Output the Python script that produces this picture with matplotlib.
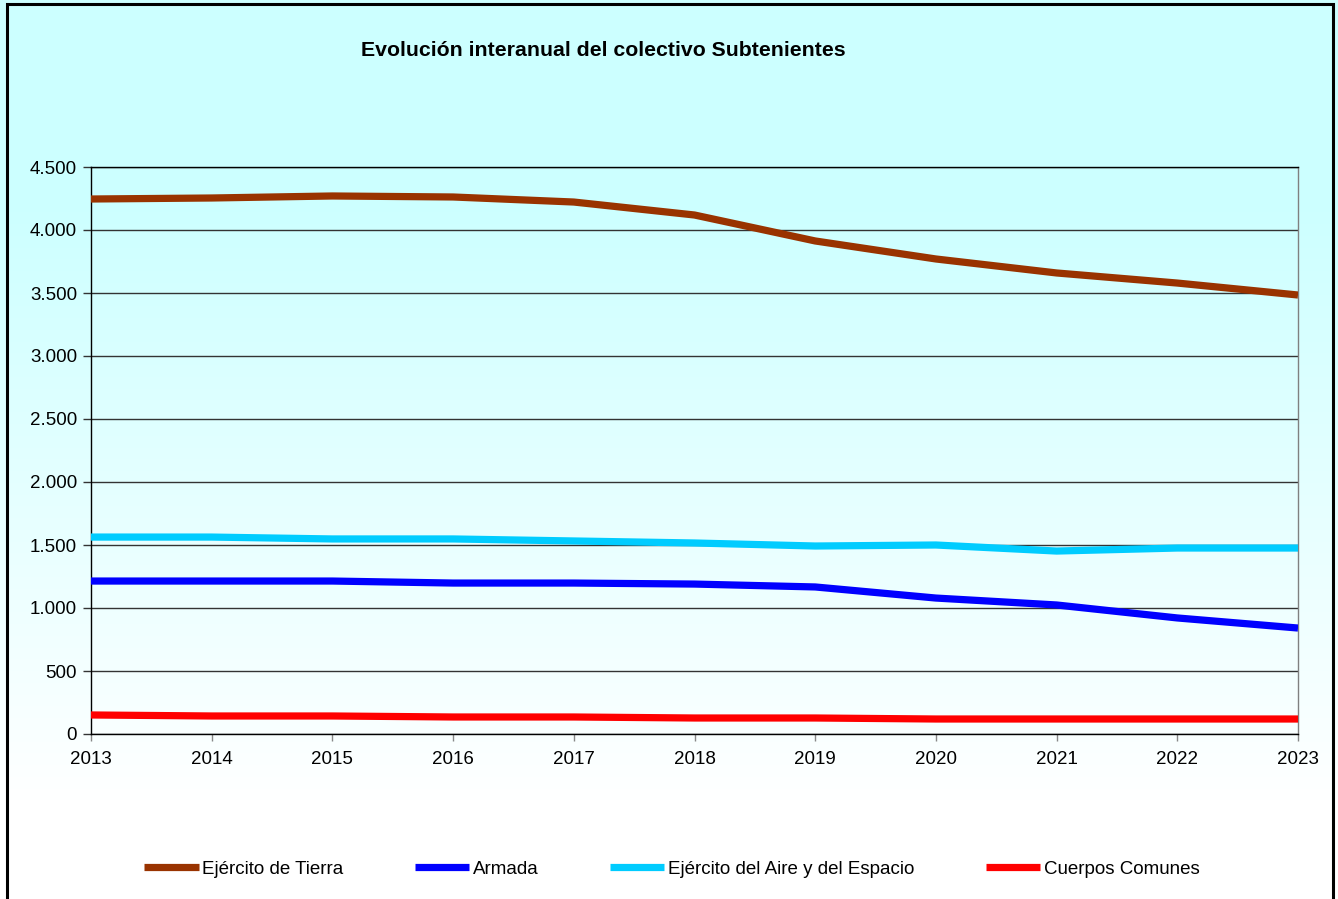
import numpy as np
import matplotlib
matplotlib.use('Agg')
import matplotlib.pyplot as plt
from matplotlib.patches import Rectangle

plt.rcParams['font.family'] = ['Liberation Sans', 'DejaVu Sans']

# Data
years = [2013, 2014, 2015, 2016, 2017, 2018, 2019, 2020, 2021, 2022, 2023]
tierra = [4246, 4254, 4270, 4262, 4222, 4119, 3913, 3770, 3659, 3579, 3484]
armada = [1214, 1214, 1214, 1198, 1198, 1190, 1167, 1079, 1024, 921, 841]
aire = [1563, 1563, 1548, 1548, 1532, 1516, 1492, 1500, 1452, 1476, 1476]
comunes = [151, 143, 143, 135, 135, 127, 127, 119, 119, 119, 119]

series_names = ['Ejército de Tierra', 'Armada', 'Ejército del Aire y del Espacio', 'Cuerpos Comunes']
series_colors = ['#993300', '#0000FF', '#00CCFF', '#FF0000']

W, H = 1338, 899
fig = plt.figure(figsize=(W / 100, H / 100), dpi=100)

# Background gradient (cyan at top fading to white at bottom)
bg = fig.add_axes([0, 0, 1, 1], zorder=-10)
rows = np.arange(H)
t = np.clip((rows - 200) / 600.0, 0, 1)
top = np.array([0.80, 1.0, 1.0])
bot = np.array([1.0, 1.0, 1.0])
grad = top[None, :] * (1 - t[:, None]) + bot[None, :] * t[:, None]
img = np.repeat(grad[:, None, :], 10, axis=1)
bg.imshow(img, aspect='auto', extent=[0, 1, 0, 1], origin='upper')
bg.set_axis_off()

# outer frame
fig.patches.append(Rectangle((7 / W, -0.01), (1333 - 7) / W, 1.01 - 4 / H,
                             transform=fig.transFigure, fill=False,
                             edgecolor='black', linewidth=2.2, zorder=5))

ax = fig.add_axes([91 / W, 1 - 734 / H, (1298 - 91) / W, (734 - 167) / H])
ax.set_facecolor('none')

for vals, name, col in zip([tierra, armada, aire, comunes], series_names, series_colors):
    ax.plot(years, vals, color=col, linewidth=5.2, label=name,
            solid_capstyle='butt', solid_joinstyle='round', zorder=3)

ax.set_xlim(2013, 2023)
ax.set_ylim(0, 4500)
ax.set_xticks(years)
ax.set_yticks(np.arange(0, 4501, 500))
ax.set_yticklabels([f'{v:,}'.replace(',', '.') for v in range(0, 4501, 500)])
ax.grid(axis='y', color='#333333', linewidth=1.0, zorder=1)
ax.tick_params(axis='y', labelsize=13.5, length=6, width=1, color='#333333', pad=4)
ax.tick_params(axis='x', labelsize=13.5, length=5, width=1, color='#888888', pad=7)
for s in ['left', 'bottom', 'top']:
    ax.spines[s].set_color('black')
    ax.spines[s].set_linewidth(1.0)
ax.spines['right'].set_color('#808080')
ax.spines['right'].set_linewidth(1.0)

fig.text(603 / W, 1 - 51 / H, 'Evolución interanual del colectivo Subtenientes',
         ha='center', va='center', fontsize=15.3, fontweight='bold')

fig.legend(loc='center', bbox_to_anchor=(672 / W, 1 - 869 / H), ncol=4, frameon=False,
           fontsize=13.5, handlelength=2.9, handletextpad=0.2, columnspacing=3.8)

fig.savefig('out.png', dpi=100)
